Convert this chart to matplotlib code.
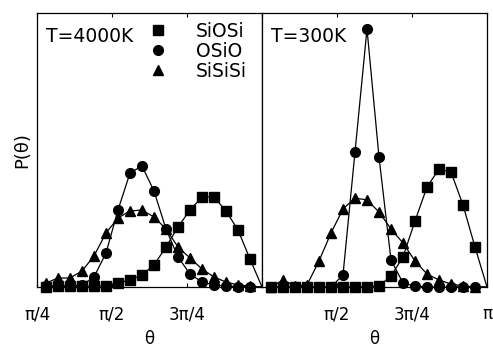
import numpy as np
import matplotlib
matplotlib.use("Agg")
import matplotlib.pyplot as plt
from matplotlib.lines import Line2D

# bin centres: k * pi/25, k = 7 .. 25 (last point only carries the line to the edge)
k = np.arange(7, 26)
theta = k * np.pi / 25

# T = 4000 K
hot_sios = [0, 1, 1, 1, 1, 1, 4, 7, 12, 22, 40, 60, 77, 90, 90, 76, 57, 28, 0]
hot_osio = [1, 1, 1, 2, 10, 34, 77, 114, 121, 96, 58, 30, 13, 5, 2, 1, 0.5, 0.5, 0]
hot_sisisi = [4, 9, 9, 16, 31, 54, 69, 76, 77, 70, 58, 40, 29, 18, 10, 5, 2, 1, 0]

# T = 300 K
cold_sios = [0, 0, 0, 0, 0, 0, 0, 0, 0.5, 1, 11, 30, 66, 100, 118, 115, 82, 40, 0]
cold_osio = [0, 0, 0, 0, 0, 0, 12, 135, 258, 130, 27, 4, 1, 0, 0, 0, 0, 0, 0]
cold_sisisi = [0, 7, 1, 2, 26, 54, 78, 89, 87, 75, 58, 44, 26, 13, 7, 3, 1, 0, 0]

names = ["SiOSi", "OSiO", "SiSiSi"]
markers = ["s", "o", "^"]
msizes = [7, 7, 6.5]
xticks = [np.pi / 4, np.pi / 2, 3 * np.pi / 4, np.pi]
left_labels = ["\u03c0/4", "\u03c0/2", "3\u03c0/4", ""]
right_labels = ["", "\u03c0/2", "3\u03c0/4", "\u03c0"]

plt.rcParams['font.family'] = ['DejaVu Sans']

fig = plt.figure(figsize=(4.93, 3.49), dpi=100)
W, H = 493, 349
ax1 = fig.add_axes([37 / W, 62 / H, 225 / W, 274 / H])
ax2 = fig.add_axes([262 / W, 62 / H, 225 / W, 274 / H])

panels = [
    (ax1, [hot_sios, hot_osio, hot_sisisi], "T=4000K", left_labels),
    (ax2, [cold_sios, cold_osio, cold_sisisi], "T=300K", right_labels),
]

for ax, series, title, labels in panels:
    for y, m, ms in zip(series, markers, msizes):
        ax.plot(theta, y, color='black', lw=0.9, marker=m, ms=ms,
                markevery=slice(0, len(y) - 1), clip_on=False)
    ax.set_xlim(np.pi / 4, np.pi)
    ax.set_ylim(0, 274)
    ax.set_xticks(xticks)
    ax.set_xticklabels(labels, fontsize=12)
    ax.set_yticks([])
    ax.tick_params(axis='x', direction='in', top=True, bottom=True,
                   length=3, width=0.8, pad=13)
    ax.set_xlabel("\u03b8", fontsize=12, labelpad=5)
    for s in ax.spines.values():
        s.set_linewidth(0.9)
    ax.text(0.04, 0.915, title, transform=ax.transAxes, fontsize=13.5,
            ha='left', va='center')

ax1.set_ylabel("P(\u03b8)", fontsize=13, labelpad=4)

handles = [Line2D([], [], ls='none', color='black', marker=m, ms=ms)
           for m, ms in zip(markers, msizes)]
ax1.legend(handles, names, loc='upper left', bbox_to_anchor=(149 / W, 1 - 22 / H),
           bbox_transform=fig.transFigure, frameon=False, fontsize=13.5,
           handlelength=1.0, handletextpad=1.5, labelspacing=0.05,
           borderpad=0, borderaxespad=0)

fig.savefig("out.png", dpi=100)
